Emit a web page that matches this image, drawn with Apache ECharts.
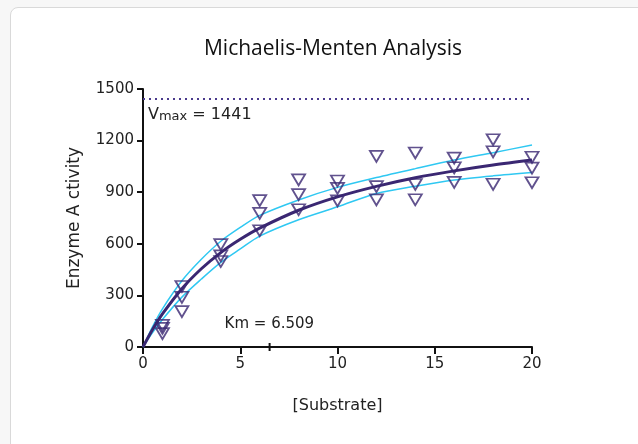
<!DOCTYPE html>
<html>
<head>
<meta charset="utf-8">
<script src="https://cdn.jsdelivr.net/npm/echarts@6/dist/echarts.min.js"></script>
<style>
html,body{margin:0;padding:0;background:#f7f7f7;}
#card{position:absolute;left:10px;top:7px;width:660px;height:460px;background:#fff;border:1px solid #d9d9d9;border-radius:8px;}
#chart{position:absolute;left:0;top:0;width:638px;height:444px;}
</style>
</head>
<body>
<div id="card"></div>
<div id="chart"></div>
<script>
const substrate = [1, 2, 4, 6, 8, 10, 12, 14, 16, 18, 20];
const repA = [126, 352, 595, 851, 972, 965, 1108, 1128, 1098, 1205, 1103];
const repB = [108, 289, 530, 777, 886, 922, 932, 945, 1042, 1135, 1040];
const repC = [78, 206, 497, 676, 798, 850, 855, 856, 957, 946, 955];

// Fitted curve and confidence band
const fitX     = [0, 0.5, 1, 2, 3, 4, 5, 6, 8, 10, 12, 14, 16, 18, 20];
const fitY     = [0, 103, 192, 339, 455, 549, 626, 691, 795, 873, 934, 984, 1024, 1058, 1087];
const upperY   = [0, 120, 222, 385, 510, 615, 695, 765, 855, 928, 985, 1037, 1087, 1130, 1174];
const lowerY   = [0, 85, 160, 290, 395, 492, 570, 645, 740, 815, 893, 935, 971, 995, 1014];

const vmax = 1441;
const km = 6.509;
const vmaxLabel = '1441';
const kmLabel = '6.509';

const purple = '#3a2772';
const cyan = '#2fc8f2';

const pts = (xs, ys) => xs.map((x, i) => [x, ys[i]]);
const scatterPts = [].concat(pts(substrate, repA), pts(substrate, repB), pts(substrate, repC));

const chart = echarts.init(document.getElementById('chart'), null, {renderer: 'canvas'});
const labelFont = 'DejaVu Sans';

chart.setOption({
  backgroundColor: 'transparent',
  animation: false,
  title: {
    text: 'Michaelis-Menten Analysis',
    left: 328, top: 34, textAlign: 'center',
    textStyle: {fontFamily: 'Open Sans', fontSize: 21, fontWeight: 'normal', color: '#111'}
  },
  grid: {left: 143, right: 106, top: 89, bottom: 97},
  xAxis: {
    type: 'value', min: 0, max: 20, interval: 5,
    name: '[Substrate]', nameLocation: 'middle', nameGap: 51,
    nameTextStyle: {fontFamily: labelFont, fontSize: 16, color: '#222'},
    axisLine: {lineStyle: {color: '#111', width: 2}},
    axisTick: {show: true, length: 7, lineStyle: {color: '#111', width: 2}},
    axisLabel: {margin: 10, fontFamily: labelFont, fontSize: 15, color: '#222'},
    splitLine: {show: false}
  },
  yAxis: {
    type: 'value', min: 0, max: 1500, interval: 300,
    name: 'Enzyme A ctivity', nameLocation: 'middle', nameGap: 60,
    nameTextStyle: {fontFamily: labelFont, fontSize: 17, color: '#222'},
    axisLine: {show: true, lineStyle: {color: '#111', width: 2}},
    axisTick: {show: true, length: 6, lineStyle: {color: '#111', width: 2}},
    axisLabel: {margin: 9, fontFamily: labelFont, fontSize: 15, color: '#222',
      formatter: v => String(v)},
    splitLine: {show: false}
  },
  series: [
    {
      type: 'line', data: pts(fitX, upperY), smooth: 0.3, symbol: 'none',
      lineStyle: {color: cyan, width: 1.5}, z: 2
    },
    {
      type: 'line', data: pts(fitX, lowerY), smooth: 0.3, symbol: 'none',
      lineStyle: {color: cyan, width: 1.5}, z: 2
    },
    {
      type: 'line', data: pts(fitX, fitY), smooth: 0.3, symbol: 'none',
      lineStyle: {color: purple, width: 3}, z: 3,
      markLine: {
        silent: true, symbol: 'none',
        lineStyle: {color: '#4a3a8c', type: [2, 4], width: 2},
        label: {show: false},
        data: [[{coord: [0, vmax]}, {coord: [20, vmax]}]]
      }
    },
    {
      type: 'scatter', data: scatterPts,
      symbol: 'triangle', symbolRotate: 180, symbolSize: [13, 11],
      itemStyle: {color: 'rgba(255,255,255,0)', borderColor: purple, borderWidth: 1.8},
      z: 5
    }
  ]
});

// Annotations positioned from data coordinates
const pV = chart.convertToPixel({gridIndex: 0}, [0, vmax]);
const pK = chart.convertToPixel({gridIndex: 0}, [km, 0]);
chart.setOption({
  graphic: [
    {
      type: 'text', left: pV[0] + 5, top: pV[1] + 8,
      style: {
        text: '{v|V}{s|max}{v| = ' + vmaxLabel + '}',
        rich: {
          v: {fontFamily: labelFont, fontSize: 16, fill: '#222', verticalAlign: 'bottom'},
          s: {fontFamily: labelFont, fontSize: 13, fill: '#222', padding: [9, 0, 0, 0]}
        }
      }
    },
    {
      type: 'text', left: pK[0] - 45, top: pK[1] - 30,
      style: {text: 'Km = ' + kmLabel, fontFamily: labelFont, fontSize: 15, fill: '#222'}
    },
    {
      type: 'line',
      shape: {x1: pK[0], y1: pK[1] - 4, x2: pK[0], y2: pK[1] + 4},
      style: {stroke: '#111', lineWidth: 2}
    }
  ]
});
</script>
</body>
</html>
